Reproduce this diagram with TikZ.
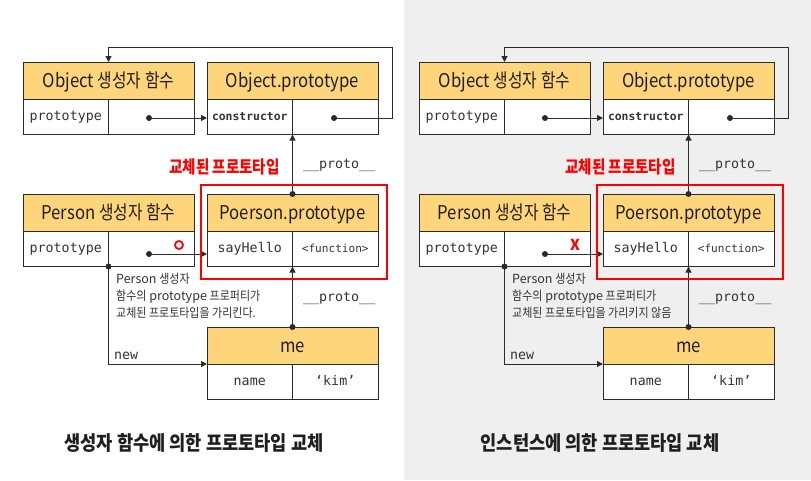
\documentclass[tikz,border=0pt]{standalone}
\usepackage{fontspec}
\setmainfont{Noto Sans CJK KR}
\newfontfamily\kr[FakeStretch=0.83]{Noto Sans CJK KR}
\newfontfamily\hfont[FakeStretch=0.88]{Noto Sans CJK KR}
\newfontfamily\krc[FakeStretch=0.88]{Noto Sans CJK KR}
\setmonofont{DejaVu Sans Mono}
\usetikzlibrary{arrows.meta,calc}
\definecolor{lc}{HTML}{2B2B2B}
\definecolor{hdrc}{HTML}{FFD57B}
\definecolor{txt}{HTML}{333333}
\definecolor{bgc}{HTML}{EFEFEF}
\definecolor{mred}{HTML}{FF0000}
\tikzset{
  box/.style={draw=lc, line width=1pt, inner sep=0pt, outer sep=0pt, anchor=north west, text=txt},
  hdr/.style={box, fill=hdrc, minimum width=171pt, minimum height=37pt, text height=14pt, text depth=0pt,
              font=\hfont\fontsize{19}{22}\selectfont, text=black!88},
  cell/.style={box, fill=white, minimum width=85.5pt, minimum height=35.5pt, text height=7.5pt, text depth=0pt},
  mono/.style={font=\ttfamily\fontsize{13.3}{15}\selectfont},
  monob/.style={font=\ttfamily\bfseries\fontsize{11.4}{13}\selectfont},
  monosm/.style={font=\ttfamily\fontsize{11.1}{13}\selectfont},
  conn/.style={draw=lc, line width=1pt},
  arr/.style={conn, -{Triangle[length=6pt,width=6pt]}},
  lbl/.style={mono, anchor=base west, inner sep=0pt, text=txt},
  redlbl/.style={font=\kr\bfseries\fontsize{17.5}{19}\selectfont, text=mred, inner sep=0pt},
  note/.style={anchor=north west, align=left, inner sep=0pt, text=txt, font=\fontsize{12.5}{17.3}\selectfont},
  redbox/.style={draw=mred, line width=2pt, anchor=north west, minimum width=186pt, minimum height=94pt, inner sep=0pt},
  okmark/.style={circle, draw=mred, line width=1.8pt, minimum size=8pt, inner sep=0pt},
  nomark/.style={text=mred, font=\bfseries\fontsize{15}{16}\selectfont, inner sep=0pt},
  caption/.style={font=\krc\bfseries\fontsize{20}{23}\selectfont, text=black!88, inner sep=0pt}
}
\newcommand\protopanel[4]{%
\begin{scope}[xshift=#2]
  % boxes
  \node[hdr] (#1oc) at (23,62) {Object {\kr 생성자 함수}};
  \node[cell,mono] (#1ocl) at (#1oc.south west) {prototype};
  \node[cell] (#1ocr) at (#1ocl.north east) {};
  \node[hdr] (#1op) at (207,62) {Object.prototype};
  \node[cell,monob] (#1opl) at (#1op.south west) {constructor};
  \node[cell] (#1opr) at (#1opl.north east) {};
  \node[hdr] (#1pc) at (23,194) {Person {\kr 생성자 함수}};
  \node[cell,mono] (#1pcl) at (#1pc.south west) {prototype};
  \node[cell] (#1pcr) at (#1pcl.north east) {};
  \node[hdr] (#1pp) at (207,194) {Poerson.prototype};
  \node[cell,mono] (#1ppl) at (#1pp.south west) {sayHello};
  \node[cell,monosm] (#1ppr) at (#1ppl.north east) {<function>};
  \node[hdr] (#1me) at (207,327) {me};
  \node[cell,mono] (#1mel) at (#1me.south west) {name};
  \node[cell,mono] (#1mer) at (#1mel.north east) {‘kim’};
  % points
  \coordinate (#1d1) at ($(#1ocr.center)+(-2.25,1.25)$);
  \coordinate (#1d2) at ($(#1opr.center)+(-1.25,1.25)$);
  \coordinate (#1d3) at ($(#1pcr.center)+(-2.25,5.25)$);
  \coordinate (#1top) at (392,47);
  % connectors
  \draw[arr] (#1d1) -- (#1opl.west |- #1d1);
  \draw[arr] (#1d2) -| (#1top) -| (#1oc.north);
  \draw[arr] (#1pp.north) -- (#1opl.south east);
  \draw[arr] (#1d3) -- (#1ppl.west |- #1d3);
  \draw[arr] (#1pcl.south east) |- (#1me.south west);
  \draw[arr] (#1me.north) -- (#1ppl.south east);
  % dots
  \fill[lc] (#1d1) circle (3pt);
  \fill[lc] (#1d2) circle (3pt);
  \fill[lc] (#1d3) circle (3pt);
  \fill[lc] (#1pp.north) circle (3pt);
  \fill[lc] (#1pcl.south east) circle (3pt);
  \fill[lc] (#1me.north) circle (3pt);
  % labels
  \node[lbl] (#1pu) at (303,168) {\_\_proto\_\_};
  \node[lbl] (#1pl) at (303,301) {\_\_proto\_\_};
  \node[lbl] (#1new) at (114,359) {new};
  \node[redlbl] (#1rl) at (224.5,167) {교체된 프로토타입};
  \node[note] (#1note) at (116,272.5) {Person {\krc 생성자}\\{\krc 함수의} prototype {\krc 프로퍼티가}\\{\krc #3}};
  \node[redbox] (#1rb) at (200,184) {};
  #4
\end{scope}}
\begin{document}
\begin{tikzpicture}[x=1pt,y=-1pt]
  \useasboundingbox (0,0) rectangle (811,480);
  \fill[white] (0,0) rectangle (404,480);
  \fill[bgc] (404,0) rectangle (811,480);
  \protopanel{L}{0pt}{교체된 프로토타입을 가리킨다.}{\node[okmark] (Lmark) at (179,245) {};}
  \protopanel{R}{396pt}{교체된 프로토타입을 가리키지 않음}{\node[nomark] (Rmark) at (179,245) {X};}
  \node[caption] (capL) at (194,443) {생성자 함수에 의한 프로토타입 교체};
  \node[caption] (capR) at (600,443) {인스턴스에 의한 프로토타입 교체};
\end{tikzpicture}
\end{document}
